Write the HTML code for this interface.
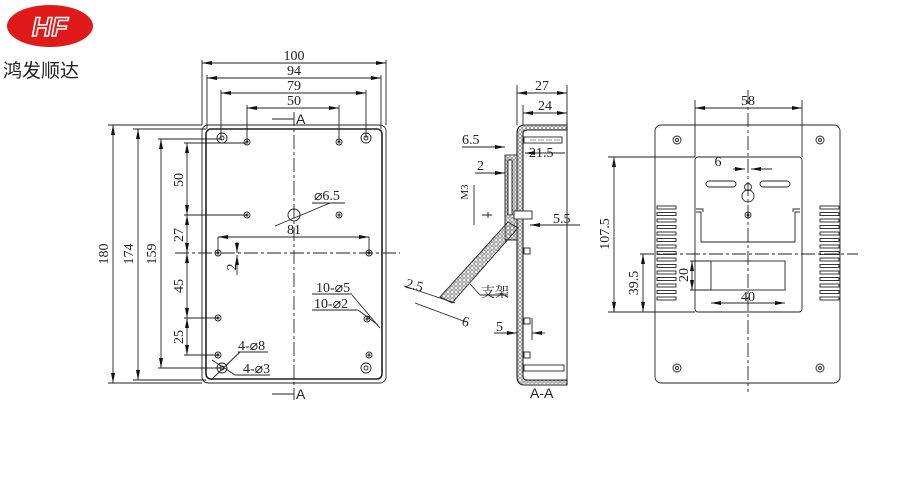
<!DOCTYPE html>
<html><head><meta charset="utf-8"><style>
html,body{margin:0;padding:0;background:#fff;width:900px;height:500px;overflow:hidden}
svg{display:block}
text{font-family:"Liberation Serif","Noto Serif CJK SC",serif;font-size:14px;fill:#222}
</style></head><body>
<svg width="900" height="500" viewBox="0 0 900 500" xmlns="http://www.w3.org/2000/svg">
<defs>
<marker id="a" viewBox="0 0 10 4" refX="10" refY="2" markerWidth="10" markerHeight="4" markerUnits="userSpaceOnUse" orient="auto-start-reverse"><path d="M0,0L10,2L0,4z" fill="#111"/></marker>
<pattern id="h" width="4" height="4" patternUnits="userSpaceOnUse"><circle cx="2" cy="2" r="1.3" fill="none" stroke="#444" stroke-width="0.6"/></pattern>
</defs>
<!-- logo -->
<ellipse cx="50" cy="26" rx="43" ry="21" fill="#e01a1a"/>
<text x="50" y="36" text-anchor="middle" style="font-family:'Liberation Sans',sans-serif;font-size:27px;font-weight:bold;font-style:italic;fill:none;stroke:#fff;stroke-width:1.6">HF</text>
<text x="3" y="77" style="font-family:'Liberation Sans','Noto Sans CJK SC',sans-serif;font-size:19px;fill:#222">鸿发顺达</text>

<g stroke="#222" stroke-width="0.9" fill="none">
<!-- FRONT VIEW -->
<rect x="202" y="125" width="184" height="258" rx="6"/>
<rect x="206" y="129" width="176" height="250" rx="5" stroke-width="1.6"/>
<line x1="294" y1="112" x2="294" y2="400" stroke-dasharray="14,3,3,3"/>
<line x1="175" y1="253" x2="400" y2="253" stroke-dasharray="14,3,3,3"/>
<!-- top dims -->
<line x1="202" y1="60" x2="202" y2="125"/><line x1="386" y1="60" x2="386" y2="125"/>
<line x1="207" y1="75" x2="207" y2="129"/><line x1="381" y1="75" x2="381" y2="129"/>
<line x1="221" y1="90" x2="221" y2="138"/><line x1="366" y1="90" x2="366" y2="138"/>
<line x1="247" y1="105" x2="247" y2="142"/><line x1="339" y1="105" x2="339" y2="142"/>
<line x1="202" y1="63" x2="386" y2="63" marker-start="url(#a)" marker-end="url(#a)"/>
<line x1="207" y1="78" x2="381" y2="78" marker-start="url(#a)" marker-end="url(#a)"/>
<line x1="221" y1="93" x2="366" y2="93" marker-start="url(#a)" marker-end="url(#a)"/>
<line x1="247" y1="108" x2="339" y2="108" marker-start="url(#a)" marker-end="url(#a)"/>
<line x1="272" y1="119" x2="294" y2="119"/><line x1="272" y1="394" x2="294" y2="394"/>
<!-- left dims -->
<line x1="108" y1="125" x2="202" y2="125"/><line x1="108" y1="383" x2="202" y2="383"/>
<line x1="133" y1="129" x2="206" y2="129"/><line x1="133" y1="380" x2="206" y2="380"/>
<line x1="158" y1="139" x2="222" y2="139"/><line x1="158" y1="368" x2="222" y2="368"/>
<line x1="113" y1="125" x2="113" y2="383" marker-start="url(#a)" marker-end="url(#a)"/>
<line x1="138" y1="129" x2="138" y2="380" marker-start="url(#a)" marker-end="url(#a)"/>
<line x1="161" y1="139" x2="161" y2="368" marker-start="url(#a)" marker-end="url(#a)"/>
<line x1="187" y1="143" x2="187" y2="215" marker-start="url(#a)" marker-end="url(#a)"/>
<line x1="187" y1="215" x2="187" y2="253" marker-start="url(#a)" marker-end="url(#a)"/>
<line x1="187" y1="253" x2="187" y2="318" marker-start="url(#a)" marker-end="url(#a)"/>
<line x1="187" y1="318" x2="187" y2="355" marker-start="url(#a)" marker-end="url(#a)"/>
<line x1="184" y1="143" x2="247" y2="143"/>
<line x1="184" y1="215" x2="247" y2="215"/><line x1="184" y1="318" x2="218" y2="318"/><line x1="184" y1="355" x2="218" y2="355"/>
<line x1="218" y1="237" x2="369" y2="237" marker-start="url(#a)" marker-end="url(#a)"/>
<line x1="218" y1="237" x2="218" y2="253"/><line x1="369" y1="237" x2="369" y2="253"/>
<line x1="237" y1="242" x2="237" y2="253" marker-end="url(#a)"/>
<line x1="237" y1="275" x2="237" y2="255" marker-end="url(#a)"/>
<!-- holes -->
<g>
<circle cx="222" cy="138" r="5"/><circle cx="222" cy="138" r="2"/>
<circle cx="366" cy="138" r="5"/><circle cx="366" cy="138" r="2"/>
<circle cx="222" cy="368" r="5"/><circle cx="222" cy="368" r="2"/>
<circle cx="366" cy="368" r="5"/><circle cx="366" cy="368" r="2"/>
<circle cx="247" cy="142" r="3"/><circle cx="247" cy="142" r="1"/>
<circle cx="339" cy="142" r="3"/><circle cx="339" cy="142" r="1"/>
<circle cx="247" cy="215" r="3"/><circle cx="247" cy="215" r="1"/>
<circle cx="339" cy="215" r="3"/><circle cx="339" cy="215" r="1"/>
<circle cx="218" cy="253" r="3"/><circle cx="218" cy="253" r="1"/>
<circle cx="369" cy="253" r="3"/><circle cx="369" cy="253" r="1"/>
<circle cx="218" cy="318" r="3"/><circle cx="218" cy="318" r="1"/>
<circle cx="367" cy="319" r="3"/><circle cx="367" cy="319" r="1"/>
<circle cx="218" cy="355" r="3"/><circle cx="218" cy="355" r="1"/>
<circle cx="369" cy="355" r="3"/><circle cx="369" cy="355" r="1"/>
<circle cx="294" cy="215" r="6"/>
</g>
<line x1="275" y1="226" x2="330" y2="203"/><line x1="312" y1="203" x2="345" y2="203"/>
<line x1="352" y1="295" x2="380" y2="328"/><line x1="312" y1="294" x2="352" y2="294"/>
<line x1="312" y1="310" x2="358" y2="310"/><line x1="358" y1="310" x2="378" y2="325"/>
<line x1="211" y1="380" x2="240" y2="352"/><line x1="238" y1="352" x2="268" y2="352"/>
<line x1="212" y1="360" x2="235" y2="375"/><line x1="235" y1="375" x2="270" y2="375"/>

<!-- SECTION VIEW -->
<path d="M517,133 Q517,125 525,125 L567,125 L567,130 L527,130 Q523,130 523,134 L523,376 Q523,380 527,380 L567,380 L567,385 L525,385 Q517,385 517,377Z" fill="url(#h)" stroke-width="1.1"/>
<line x1="567" y1="120" x2="567" y2="385" stroke-width="1"/>
<rect x="524" y="137" width="38" height="6"/><rect x="524" y="365" width="40" height="6"/>
<line x1="530" y1="140" x2="560" y2="140" stroke-width="0.5" stroke-dasharray="6,2"/>
<rect x="505" y="155" width="12" height="85" fill="url(#h)"/>
<rect x="508" y="160" width="4" height="55" fill="#fff"/>
<rect x="514" y="211" width="18" height="8" fill="#fff"/>
<rect x="524" y="248" width="6" height="6"/><rect x="524" y="318" width="6" height="6"/><rect x="524" y="352" width="6" height="6"/>
<path d="M482,215 h10 M488,212 v6"/>
<polygon points="508,222 518,228 452,303 440,297" fill="url(#h)"/>
<line x1="517" y1="85" x2="517" y2="125"/><line x1="523" y1="105" x2="523" y2="125"/>
<line x1="567" y1="85" x2="567" y2="120"/>
<line x1="517" y1="93" x2="567" y2="93" marker-start="url(#a)" marker-end="url(#a)"/>
<line x1="523" y1="113" x2="567" y2="113" marker-start="url(#a)" marker-end="url(#a)"/>
<line x1="462" y1="147" x2="505" y2="147" marker-end="url(#a)"/>
<line x1="525" y1="153" x2="565" y2="153" marker-start="url(#a)"/>
<line x1="475" y1="173" x2="505" y2="173" marker-end="url(#a)"/>
<line x1="474" y1="185" x2="474" y2="225"/>
<line x1="530" y1="225" x2="580" y2="225" marker-start="url(#a)"/>
<line x1="494" y1="333" x2="517" y2="333" marker-end="url(#a)"/>
<line x1="532" y1="333" x2="545" y2="333" marker-start="url(#a)"/>
<line x1="532" y1="318" x2="532" y2="340"/>
<line x1="404" y1="286" x2="455" y2="303"/><line x1="415" y1="303" x2="466" y2="322"/>
<line x1="470" y1="284" x2="480" y2="295"/><line x1="480" y1="295" x2="508" y2="295"/>

<!-- RIGHT VIEW -->
<rect x="655" y="125" width="185" height="258" rx="6"/>
<line x1="748" y1="90" x2="748" y2="392" stroke-dasharray="14,3,3,3"/>
<line x1="640" y1="254" x2="858" y2="254" stroke-dasharray="14,3,3,3"/>
<rect x="695" y="157" width="107" height="155" rx="3"/>
<path d="M696,212 h5 v30 h94 v-30 h5 M696,209 h7 v3 M800,209 h-7 v3"/>
<rect x="711" y="261" width="74" height="29"/>
<circle cx="748" cy="196" r="6"/><circle cx="748" cy="187" r="3.5"/>
<rect x="706" y="181" width="30" height="6" rx="3"/><rect x="760" y="181" width="30" height="6" rx="3"/>
<circle cx="748" cy="215" r="3"/><circle cx="748" cy="215" r="1"/>
<circle cx="677" cy="140" r="4"/><circle cx="677" cy="140" r="1.5"/>
<circle cx="820" cy="140" r="4"/><circle cx="820" cy="140" r="1.5"/>
<circle cx="677" cy="368" r="4"/><circle cx="677" cy="368" r="1.5"/>
<circle cx="820" cy="368" r="4"/><circle cx="820" cy="368" r="1.5"/>
<g id="v">
<rect x="657" y="206" width="19" height="3"/><rect x="657" y="212.5" width="19" height="3"/><rect x="657" y="219" width="19" height="3"/><rect x="657" y="225.5" width="19" height="3"/><rect x="657" y="232" width="19" height="3"/><rect x="657" y="238.5" width="19" height="3"/><rect x="657" y="245" width="19" height="3"/><rect x="657" y="251.5" width="19" height="3"/><rect x="657" y="258" width="19" height="3"/><rect x="657" y="264.5" width="19" height="3"/><rect x="657" y="271" width="19" height="3"/><rect x="657" y="277.5" width="19" height="3"/><rect x="657" y="284" width="19" height="3"/><rect x="657" y="290.5" width="19" height="3"/><rect x="657" y="297" width="19" height="3"/>
</g>
<use href="#v" x="163"/>
<line x1="695" y1="100" x2="695" y2="157"/><line x1="802" y1="100" x2="802" y2="157"/>
<line x1="695" y1="108" x2="802" y2="108" marker-start="url(#a)" marker-end="url(#a)"/>
<line x1="608" y1="157" x2="695" y2="157"/><line x1="608" y1="312" x2="695" y2="312"/>
<line x1="614" y1="157" x2="614" y2="312" marker-start="url(#a)" marker-end="url(#a)"/>
<line x1="643" y1="254" x2="643" y2="312" marker-start="url(#a)" marker-end="url(#a)"/>
<line x1="690" y1="261" x2="711" y2="261"/><line x1="690" y1="290" x2="711" y2="290"/>
<line x1="692" y1="261" x2="692" y2="290" marker-start="url(#a)" marker-end="url(#a)"/>
<line x1="711" y1="303" x2="785" y2="303" marker-start="url(#a)" marker-end="url(#a)"/>
<line x1="733" y1="169" x2="745" y2="169" marker-end="url(#a)"/>
<line x1="772" y1="169" x2="751" y2="169" marker-end="url(#a)"/>
</g>
<g>
<text x="294" y="60" text-anchor="middle">100</text>
<text x="294" y="75" text-anchor="middle">94</text>
<text x="294" y="90" text-anchor="middle">79</text>
<text x="294" y="105" text-anchor="middle">50</text>
<text x="296" y="124" style="font-family:'Liberation Sans',sans-serif">A</text>
<text x="296" y="399" style="font-family:'Liberation Sans',sans-serif">A</text>
<text transform="translate(108,254) rotate(-90)" text-anchor="middle">180</text>
<text transform="translate(133,254) rotate(-90)" text-anchor="middle">174</text>
<text transform="translate(156,254) rotate(-90)" text-anchor="middle">159</text>
<text transform="translate(183,180) rotate(-90)" text-anchor="middle">50</text>
<text transform="translate(183,235) rotate(-90)" text-anchor="middle">27</text>
<text transform="translate(183,286) rotate(-90)" text-anchor="middle">45</text>
<text transform="translate(183,337) rotate(-90)" text-anchor="middle">25</text>
<text transform="translate(236,267) rotate(-90)" text-anchor="middle">2</text>
<text x="294" y="234" text-anchor="middle">81</text>
<text x="314" y="200">⌀6.5</text>
<text x="316" y="292">10-⌀5</text>
<text x="314" y="308">10-⌀2</text>
<text x="238" y="350">4-⌀8</text>
<text x="243" y="373">4-⌀3</text>
<text x="542" y="90" text-anchor="middle">27</text>
<text x="545" y="110" text-anchor="middle">24</text>
<text x="462" y="144">6.5</text>
<text x="529" y="157">21.5</text>
<text x="477" y="170">2</text>
<text transform="translate(468,192) rotate(-90)" text-anchor="middle" style="font-size:11px">M3</text>
<text x="553" y="223">5.5</text>
<text x="405" y="290" transform="rotate(15 415 288)">2.5</text>
<text x="462" y="326" transform="rotate(15 465 322)">6</text>
<text x="481" y="297">支架</text>
<text x="496" y="331">5</text>
<text x="530" y="398" style="font-family:'Liberation Sans',sans-serif">A-A</text>
<text x="748" y="105" text-anchor="middle">58</text>
<text x="718" y="166" text-anchor="middle">6</text>
<text x="748" y="301" text-anchor="middle">40</text>
<text transform="translate(609,234) rotate(-90)" text-anchor="middle">107.5</text>
<text transform="translate(638,283) rotate(-90)" text-anchor="middle">39.5</text>
<text transform="translate(688,275) rotate(-90)" text-anchor="middle">20</text>
</g>
</svg>
</body></html>
